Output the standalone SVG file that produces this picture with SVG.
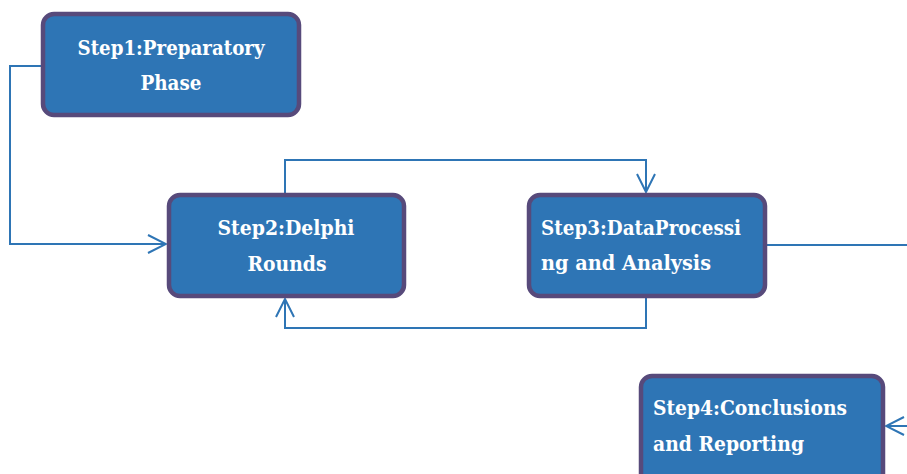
<svg xmlns="http://www.w3.org/2000/svg" width="907" height="474" viewBox="0 0 907 474">
  <style>
    .box { fill: #2e75b5; stroke: #574a7b; stroke-width: 4.5; }
    .lbl { font-family: "DejaVu Serif", "Liberation Serif", serif; font-weight: bold; font-size: 20px; fill: #ffffff; }
    .mid { text-anchor: middle; }
    .wire { fill: none; stroke: #2e75b5; stroke-width: 2; }
  </style>
  <defs>
    <marker id="open" viewBox="0 0 20 20" refX="19" refY="10" markerWidth="20" markerHeight="20" markerUnits="userSpaceOnUse" orient="auto">
      <path d="M1 1 L19 10 L1 19" fill="none" stroke="#2e75b5" stroke-width="2"/>
    </marker>
  </defs>

  <g id="connectors">
    <path class="wire" d="M41 66 H10 V244 H166" marker-end="url(#open)"/>
    <path class="wire" d="M285 193 V160 H646 V192" marker-end="url(#open)"/>
    <path class="wire" d="M646 298 V328 H285 V299" marker-end="url(#open)"/>
    <path class="wire" d="M767 245 H907"/>
    <path class="wire" d="M907 426 H886" marker-end="url(#open)"/>
  </g>

  <g id="step1">
    <rect class="box" x="43" y="14" width="256" height="101" rx="11"/>
    <text class="lbl mid" x="171" y="55" textLength="187" lengthAdjust="spacingAndGlyphs">Step1:Preparatory</text>
    <text class="lbl mid" x="171" y="90" textLength="61" lengthAdjust="spacingAndGlyphs">Phase</text>
  </g>

  <g id="step2">
    <rect class="box" x="169" y="195" width="235" height="101" rx="11"/>
    <text class="lbl mid" x="286" y="235" textLength="137" lengthAdjust="spacingAndGlyphs">Step2:Delphi</text>
    <text class="lbl mid" x="287" y="271" textLength="79" lengthAdjust="spacingAndGlyphs">Rounds</text>
  </g>

  <g id="step3">
    <rect class="box" x="529" y="195" width="236" height="101" rx="11"/>
    <text class="lbl" x="541" y="235" textLength="200" lengthAdjust="spacingAndGlyphs">Step3:DataProcessi</text>
    <text class="lbl" x="541" y="270" textLength="170" lengthAdjust="spacingAndGlyphs">ng and Analysis</text>
  </g>

  <g id="step4">
    <rect class="box" x="641" y="376" width="242" height="110" rx="11"/>
    <text class="lbl" x="653" y="415" textLength="194" lengthAdjust="spacingAndGlyphs">Step4:Conclusions</text>
    <text class="lbl" x="653" y="451" textLength="151" lengthAdjust="spacingAndGlyphs">and Reporting</text>
  </g>
</svg>
